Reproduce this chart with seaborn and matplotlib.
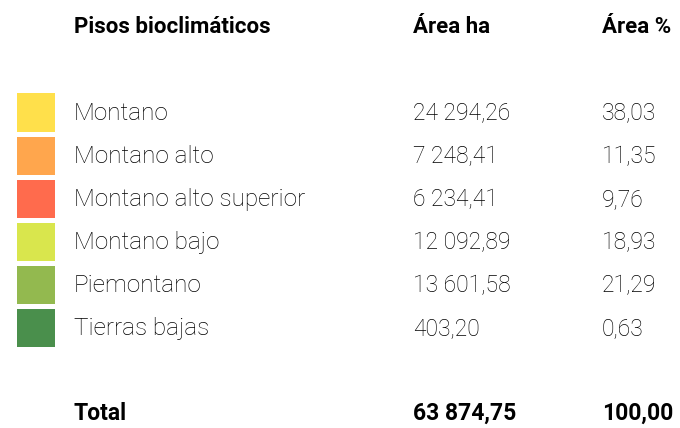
import numpy as np
import pandas as pd
import seaborn as sns
import matplotlib.pyplot as plt
from matplotlib.colors import ListedColormap

# data
pisos = ["Montano", "Montano alto", "Montano alto superior", "Montano bajo", "Piemontano", "Tierras bajas"]
area_ha = ["24 294,26", "7 248,41", "6 234,41", "12 092,89", "13 601,58", "403,20"]
area_pct = ["38,03", "11,35", "9,76", "18,93", "21,29", "0,63"]
colores = ["#FFE04B", "#FFA64D", "#FF6B4D", "#D9E64D", "#93B94F", "#4A8F4C"]
headers = ["Pisos bioclimáticos", "Área ha", "Área %"]
total = ["Total", "63 874,75", "100,00"]

W, H = 680, 428
fig = plt.figure(figsize=(W / 100, H / 100), dpi=100)

# color column as a heatmap (one cell per row), white lines give the gaps
ax_sq = fig.add_axes([13.5 / W, 1 - 349.5 / H, 43 / W, 259 / H])
df = pd.DataFrame({"c": np.arange(len(pisos))}, index=pisos)
sns.heatmap(df, ax=ax_sq, cmap=ListedColormap(colores), cbar=False,
            linewidths=2.2, linecolor="white", xticklabels=False, yticklabels=False)
ax_sq.set_xlabel("")
ax_sq.set_ylabel("")

# text layer in pixel coords
ax = fig.add_axes([0, 0, 1, 1])
ax.set_xlim(0, W)
ax.set_ylim(H, 0)
ax.axis("off")

col_x = [74, 413, 602]
font = "Roboto"
for x, h in zip(col_x, headers):
    ax.text(x, 27, h, fontsize=16, fontweight="bold", family=font, ha="left", va="center")
for i, (p, a, c) in enumerate(zip(pisos, area_ha, area_pct)):
    y = 113 + i * 43.2
    ax.text(col_x[0], y, p, fontsize=17.5, fontweight="light", family=font,
            ha="left", va="center", color="#000000")
    for x, t in zip(col_x[1:], (a, c)):
        ax.text(x, y, t, fontsize=16.5, fontweight="light", family=font,
                ha="left", va="center", color="#000000")
for x, t in zip(col_x, total):
    ax.text(x, 413, t, fontsize=16.5, fontweight="bold", family=font, ha="left", va="center")

fig.savefig("out.png", dpi=100)
